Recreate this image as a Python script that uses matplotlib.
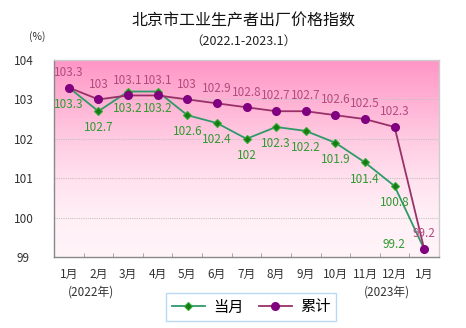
import matplotlib
matplotlib.use("Agg")
import matplotlib.pyplot as plt
import numpy as np
from matplotlib.colors import LinearSegmentedColormap

plt.rcParams['font.family'] = ['Noto Sans CJK SC', 'DejaVu Sans']

months = ["1月", "2月", "3月", "4月", "5月", "6月", "7月", "8月", "9月", "10月", "11月", "12月", "1月"]
current = [103.3, 102.7, 103.2, 103.2, 102.6, 102.4, 102.0, 102.3, 102.2, 101.9, 101.4, 100.8, 99.2]
cumulative = [103.3, 103.0, 103.1, 103.1, 103.0, 102.9, 102.8, 102.7, 102.7, 102.6, 102.5, 102.3, 99.2]
cur_labels = ["103.3", "102.7", "103.2", "103.2", "102.6", "102.4", "102", "102.3", "102.2", "101.9", "101.4", "100.8", "99.2"]
cum_labels = ["103.3", "103", "103.1", "103.1", "103", "102.9", "102.8", "102.7", "102.7", "102.6", "102.5", "102.3", "99.2"]
yticks = [99, 100, 101, 102, 103, 104]

W, H = 466, 328
fig = plt.figure(figsize=(W / 100, H / 100), dpi=100)
ax = fig.add_axes([54 / W, 1 - 257 / H, (439 - 54) / W, (257 - 60) / H])

x = np.arange(len(months))
ax.set_xlim(-0.5, len(months) - 0.5)
ax.set_ylim(99, 104)

# gradient background
cmap = LinearSegmentedColormap.from_list("pinkgrad", [
    (0.0, "#fff4f9"), (0.2, "#fff0f6"), (0.4, "#ffe1ee"),
    (0.6, "#ffcbe2"), (0.8, "#ffb1d4"), (1.0, "#ff96c6")])
grad = np.linspace(0, 1, 256).reshape(-1, 1)
ax.imshow(grad, cmap=cmap, aspect="auto", origin="lower",
          extent=[-0.5, len(months) - 0.5, 99, 104], zorder=0)

for yv in yticks[1:-1]:
    ax.axhline(yv, color="#c8c0c4", lw=0.8, ls=(0, (1, 1)), zorder=1)

ax.plot(x, current, color="#2e9a6a", lw=1.3, marker="D", ms=4.5,
        mfc="#1a7a1a", mec="#2fae2f", mew=0.8, zorder=3, label="当月")
ax.plot(x, cumulative, color="#9a3068", lw=1.3, marker="o", ms=5.5,
        mfc="#800080", mec="#800080", zorder=4, label="累计")

green_txt = "#2f9a2f"
pink_txt = "#b24a80"
fs = 8.5
for i, s in enumerate(cum_labels):
    ax.annotate(s, (x[i], cumulative[i]), xytext=(0, 11), textcoords="offset points",
                ha="center", va="center", color=pink_txt, fontsize=fs, zorder=5)
for i, s in enumerate(cur_labels):
    if i == len(months) - 1:
        off = (-22, 3)
    else:
        off = (0, -12)
    ax.annotate(s, (x[i], current[i]), xytext=off, textcoords="offset points",
                ha="center", va="center", color=green_txt, fontsize=fs, zorder=5)

ax.set_yticks(yticks)
ax.set_yticklabels([str(v) for v in yticks], fontsize=8.5, color="#333333")
ax.tick_params(axis="y", length=0, pad=22)
for lab in ax.get_yticklabels():
    lab.set_horizontalalignment("center")

ax.set_xticks(x)
ax.set_xticklabels(months, fontsize=8.5, color="#333333")
ax.set_xticks(np.arange(-0.5, len(months), 1), minor=True)
ax.tick_params(axis="x", which="major", length=0, pad=8)
ax.tick_params(axis="x", which="minor", length=3, direction="in", color="#999999")

for side in ["left", "bottom"]:
    ax.spines[side].set_color("#888888")
    ax.spines[side].set_linewidth(1.0)
for side in ["top", "right"]:
    ax.spines[side].set_color("#cccccc")
    ax.spines[side].set_linewidth(1.0)

fig.text(243 / W, 1 - 21 / H, "北京市工业生产者出厂价格指数", ha="center", va="center",
         fontsize=11.5, color="#111111")
fig.text(243 / W, 1 - 41 / H, "（2022.1-2023.1）", ha="center", va="center",
         fontsize=9, color="#222222")
fig.text(37 / W, 1 - 37 / H, "(%)", ha="center", va="center", fontsize=7.5, color="#333333")
fig.text(91 / W, 1 - 292 / H, "(2022年)", ha="center", va="center", fontsize=8.5, color="#333333")
fig.text(387 / W, 1 - 292 / H, "(2023年)", ha="center", va="center", fontsize=8.5, color="#333333")

leg = fig.legend(loc="center", bbox_to_anchor=(251 / W, 1 - 307 / H), ncol=2,
                 fontsize=11, frameon=True, fancybox=False, handlelength=2.2,
                 handletextpad=0.5, columnspacing=1.0, borderpad=0.35)
leg.get_frame().set_edgecolor("#a8d0f0")
leg.get_frame().set_linewidth(1.0)

fig.savefig("out.png", dpi=100)
